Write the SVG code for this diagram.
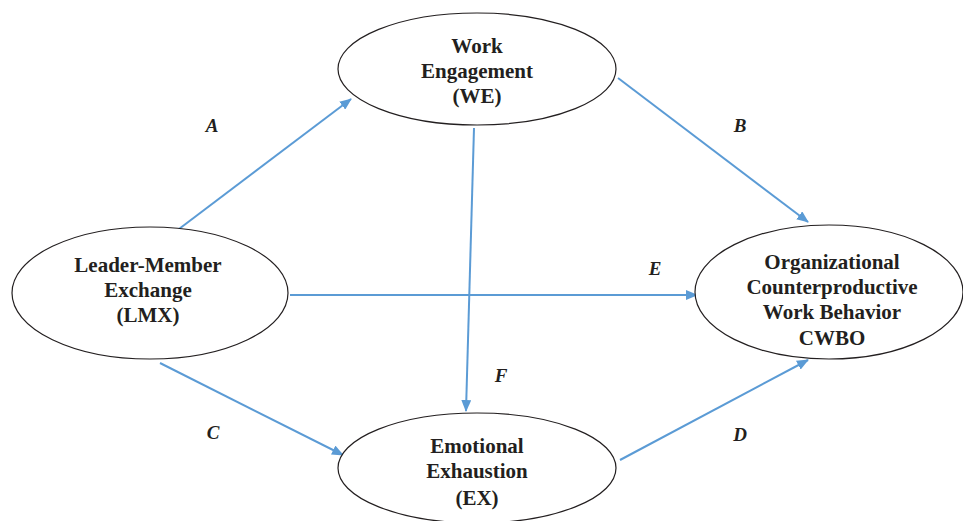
<svg xmlns="http://www.w3.org/2000/svg" width="963" height="521" viewBox="0 0 963 521">
<style>
.node ellipse{fill:#fff;stroke:#231f20;stroke-width:1.2}
.node text{font-family:"Liberation Serif","Times New Roman",serif;font-weight:bold;font-size:21px;fill:#231f20;text-anchor:middle}
.conn line{stroke:#5b9bd5;stroke-width:2;marker-end:url(#ah)}
.lbl{font-family:"Liberation Serif","Times New Roman",serif;font-weight:bold;font-style:italic;font-size:19px;fill:#231f20;text-anchor:middle}
</style>
<defs>
<marker id="ah" viewBox="0 0 12 10" refX="11" refY="5" markerWidth="12" markerHeight="10" markerUnits="userSpaceOnUse" orient="auto">
<path d="M0,0 L12,5 L0,10 z" fill="#5b9bd5"/>
</marker>
</defs>
<rect width="963" height="521" fill="#fff"/>
<g id="connectors" class="conn">
<line x1="175" y1="232" x2="351" y2="99"/>
<line x1="618" y1="78" x2="808" y2="222"/>
<line x1="290" y1="295" x2="697" y2="295"/>
<line x1="474" y1="128" x2="466" y2="411"/>
<line x1="160" y1="363" x2="343" y2="455"/>
<line x1="620" y1="460" x2="808" y2="360"/>
</g>
<g id="node-we" class="node">
<ellipse cx="477" cy="69" rx="139" ry="56"/>
<text x="477" y="53">Work</text>
<text x="477" y="78">Engagement</text>
<text x="477" y="103">(WE)</text>
</g>
<g id="node-lmx" class="node">
<ellipse cx="150" cy="293" rx="138" ry="66"/>
<text x="148" y="272">Leader-Member</text>
<text x="148" y="297">Exchange</text>
<text x="148" y="322">(LMX)</text>
</g>
<g id="node-cwbo" class="node">
<ellipse cx="829" cy="292" rx="134" ry="67"/>
<text x="832" y="269">Organizational</text>
<text x="832" y="294">Counterproductive</text>
<text x="832" y="319">Work Behavior</text>
<text x="832" y="345">CWBO</text>
</g>
<g id="node-ex" class="node">
<ellipse cx="477" cy="468" rx="139" ry="55"/>
<text x="477" y="453">Emotional</text>
<text x="477" y="478">Exhaustion</text>
<text x="477" y="505">(EX)</text>
</g>
<g id="labels">
<text class="lbl" x="212" y="132">A</text>
<text class="lbl" x="740" y="132">B</text>
<text class="lbl" x="655" y="275">E</text>
<text class="lbl" x="501" y="382">F</text>
<text class="lbl" x="213" y="439">C</text>
<text class="lbl" x="740" y="441">D</text>
</g>
</svg>
